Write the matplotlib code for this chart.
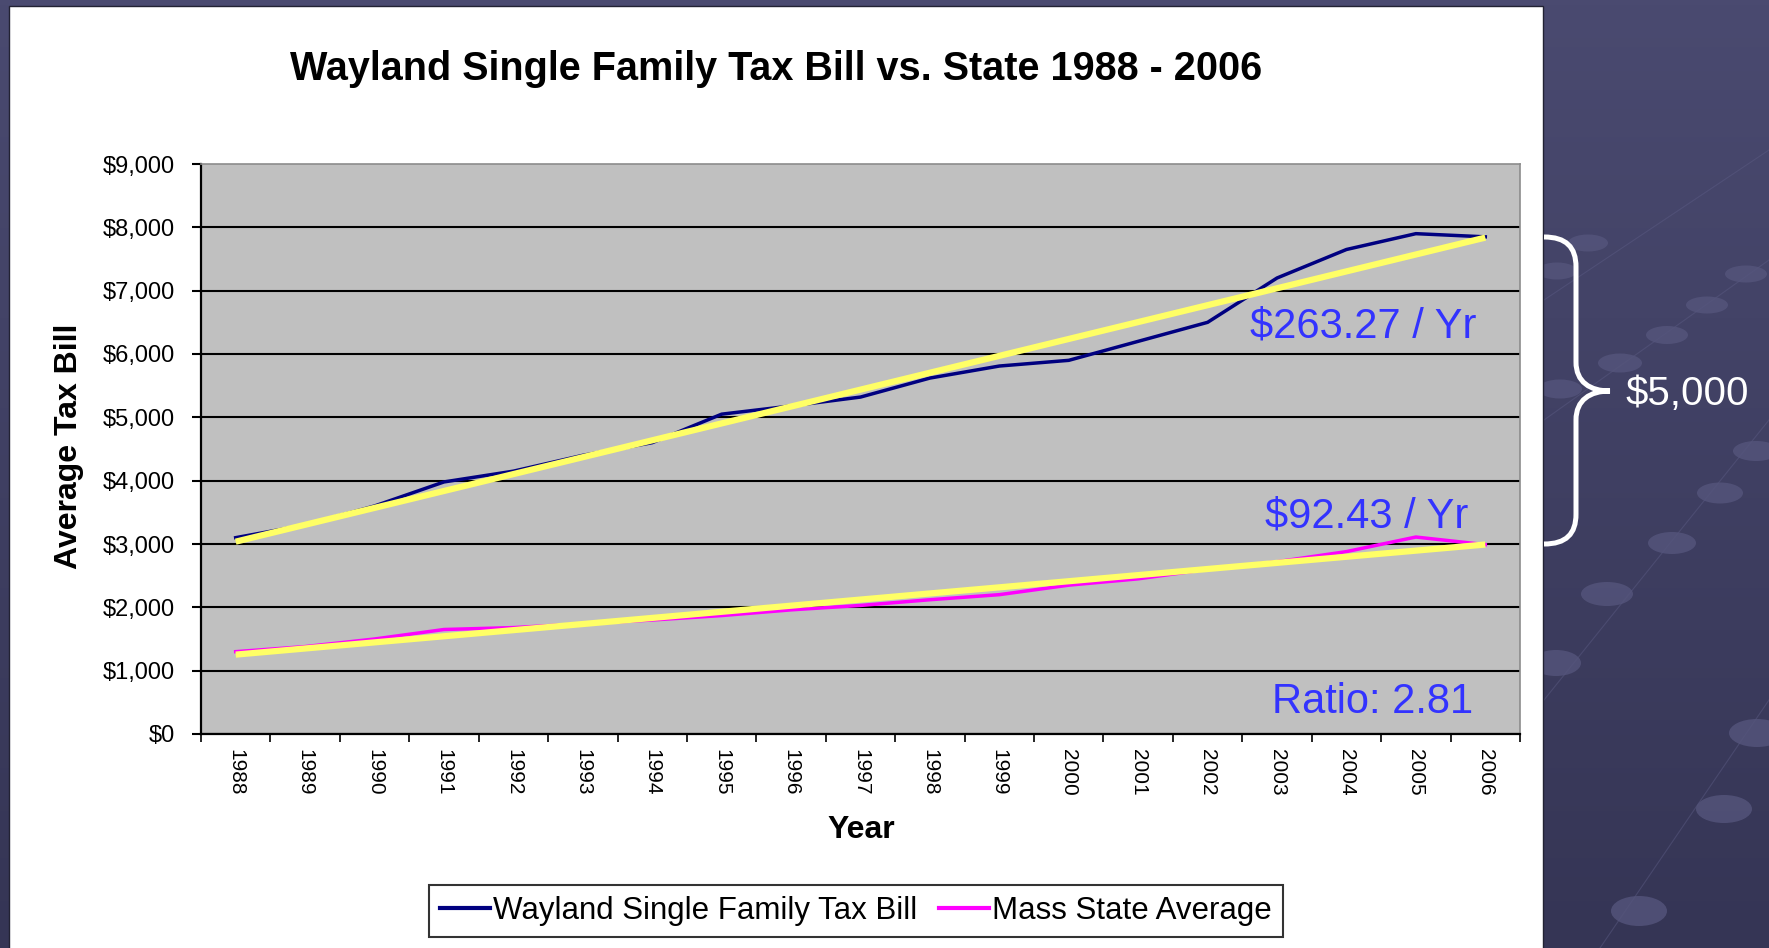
import numpy as np
import matplotlib
matplotlib.use("Agg")
import matplotlib.pyplot as plt
from matplotlib.patches import Rectangle, Ellipse, PathPatch
from matplotlib.path import Path
from matplotlib.transforms import Affine2D
from matplotlib.ticker import FuncFormatter

plt.rcParams['font.family'] = ['Liberation Sans', 'DejaVu Sans']

"""
Data read off the chart
"""
years = list(range(1988, 2007))
wayland = [3100, 3300, 3600, 3980, 4150, 4400, 4600, 5050, 5180, 5320,
           5620, 5810, 5900, 6200, 6500, 7200, 7650, 7900, 7850]
mass_avg = [1300, 1380, 1500, 1650, 1680, 1740, 1800, 1870, 1960, 2030,
            2120, 2200, 2350, 2450, 2600, 2720, 2880, 3110, 2990]
series_names = ['Wayland Single Family Tax Bill', 'Mass State Average']
y_ticks = list(range(0, 9001, 1000))
slope_labels = [r'\$263.27 / Yr', r'\$92.43 / Yr']
ratio_label = 'Ratio: 2.81'
gap_label = r'\$5,000'

W, H = 1769, 948
fig = plt.figure(figsize=(W / 100, H / 100), dpi=100)
# pixel coords of the reference picture (origin top-left)
px = Affine2D().scale(1 / W, -1 / H).translate(0, 1) + fig.transFigure

"""
Slide background
"""
bg = fig.add_axes([0, 0, 1, 1], zorder=-10)
top_c = np.array([0x4a, 0x4a, 0x70]) / 255
bot_c = np.array([0x35, 0x35, 0x55]) / 255
t = np.linspace(0, 1, 200)[:, None, None]
bg.imshow(top_c * (1 - t) + bot_c * t, aspect='auto', extent=(0, 1, 0, 1))
bg.set_axis_off()

# decorative bubbles on the slide
bubbles = [(1588, 243, 40, 17), (1557, 271, 40, 17), (1746, 274, 42, 17),
           (1707, 305, 42, 17), (1667, 335, 42, 18), (1620, 363, 44, 19),
           (1560, 389, 44, 19), (1756, 451, 46, 20), (1720, 493, 46, 21),
           (1672, 543, 48, 22), (1607, 594, 52, 24), (1556, 663, 50, 26),
           (1757, 733, 56, 28), (1724, 809, 56, 28), (1639, 911, 56, 30)]
for bx, by, bw, bh in bubbles:
    fig.add_artist(Ellipse((bx, by), bw, bh, transform=px, facecolor='#55557c',
                           edgecolor='none', alpha=0.8, zorder=-8))
for (x0, y0), (x1, y1) in [((1544, 300), (1769, 150)), ((1544, 420), (1769, 260)),
                           ((1544, 700), (1769, 420)), ((1600, 948), (1769, 700))]:
    fig.add_artist(plt.Line2D([x0, x1], [y0, y1], transform=px, color='#5a5a82',
                              lw=0.8, alpha=0.5, zorder=-9))

# white chart panel
fig.add_artist(Rectangle((9, 6), 1534, 950, transform=px, facecolor='white',
                         edgecolor='#222233', lw=1.0, zorder=-5))

"""
Chart
"""
ax = fig.add_axes([201 / W, 1 - 734 / H, 1319 / W, 570 / H])
ax.set_facecolor('#C0C0C0')

l1, = ax.plot(years, wayland, color='#000080', lw=2.5, label=series_names[0], zorder=3)
l2, = ax.plot(years, mass_avg, color='#FF00FF', lw=2.5, label=series_names[1], zorder=3)

# linear trend lines
for s in (wayland, mass_avg):
    coef = np.polyfit(years, s, 1)
    ends = [years[0], years[-1]]
    ax.plot(ends, np.polyval(coef, ends), color='#FFFF66', lw=4.5,
            solid_capstyle='butt', zorder=4)

ax.set_xlim(years[0] - 0.5, years[-1] + 0.5)
ax.set_ylim(y_ticks[0], y_ticks[-1])
ax.set_yticks(y_ticks)
ax.yaxis.set_major_formatter(FuncFormatter(lambda v, p: r'\$' + f'{int(v):,}'))
ax.set_xticks(years)
ax.set_xticklabels([str(y) for y in years], rotation=-90)
ax.set_xticks(np.arange(years[0] - 0.5, years[-1] + 1), minor=True)

ax.tick_params(axis='x', which='major', length=0, pad=11, labelsize=15)
ax.tick_params(axis='x', which='minor', length=6, width=1.2, direction='out')
ax.tick_params(axis='y', length=6.5, width=1.5, pad=12, labelsize=17)

ax.yaxis.grid(True, color='black', lw=1.5)
ax.get_ygridlines()[-1].set_visible(False)
ax.set_axisbelow(True)

for side in ('left', 'bottom'):
    ax.spines[side].set_color('black')
    ax.spines[side].set_linewidth(1.6)
for side in ('top', 'right'):
    ax.spines[side].set_color('#8c8c8c')
    ax.spines[side].set_linewidth(1.2)

fig.text(776 / W, 1 - 80 / H, 'Wayland Single Family Tax Bill vs. State 1988 - 2006',
         ha='center', va='baseline', fontsize=28.5, weight='bold')
fig.text(69 / W, 1 - 446 / H, 'Average Tax Bill', rotation=90, ha='center',
         va='center', fontsize=23, weight='bold')
fig.text(861 / W, 1 - 830 / H, 'Year', ha='center', va='center', fontsize=23,
         weight='bold')

# slope / ratio notes
for label, (tx, ty) in zip(slope_labels + [ratio_label],
                           [(1476, 337), (1468, 528), (1473, 713)]):
    fig.text(tx, ty, label, transform=px, ha='right', va='baseline',
             fontsize=30, color='#3333FF')

leg = fig.legend(handles=[l1, l2], loc='center', bbox_to_anchor=(856 / W, 1 - 911 / H),
                 ncol=2, frameon=True, fancybox=False, edgecolor='black',
                 fontsize=22.5, handlelength=1.6, handletextpad=0.1,
                 columnspacing=0.7, borderpad=0.35, borderaxespad=0)
leg.get_frame().set_linewidth(1.5)
for h in leg.get_lines():
    h.set_linewidth(3)

"""
Brace on the right
"""
verts = [(1544, 237), (1566, 237), (1576, 247), (1576, 267),
         (1576, 362),
         (1576, 382), (1590, 391), (1610, 391),
         (1590, 391), (1576, 400), (1576, 420),
         (1576, 514),
         (1576, 534), (1566, 544), (1544, 544)]
codes = [Path.MOVETO, Path.CURVE4, Path.CURVE4, Path.CURVE4,
         Path.LINETO,
         Path.CURVE4, Path.CURVE4, Path.CURVE4,
         Path.CURVE4, Path.CURVE4, Path.CURVE4,
         Path.LINETO,
         Path.CURVE4, Path.CURVE4, Path.CURVE4]
fig.add_artist(PathPatch(Path(verts, codes), transform=px, facecolor='none',
                         edgecolor='white', lw=3.6, capstyle='butt', zorder=5))
fig.text(1625, 405, gap_label, transform=px, ha='left', va='baseline',
         fontsize=29, color='white')

plt.savefig('out.png', dpi=100)
